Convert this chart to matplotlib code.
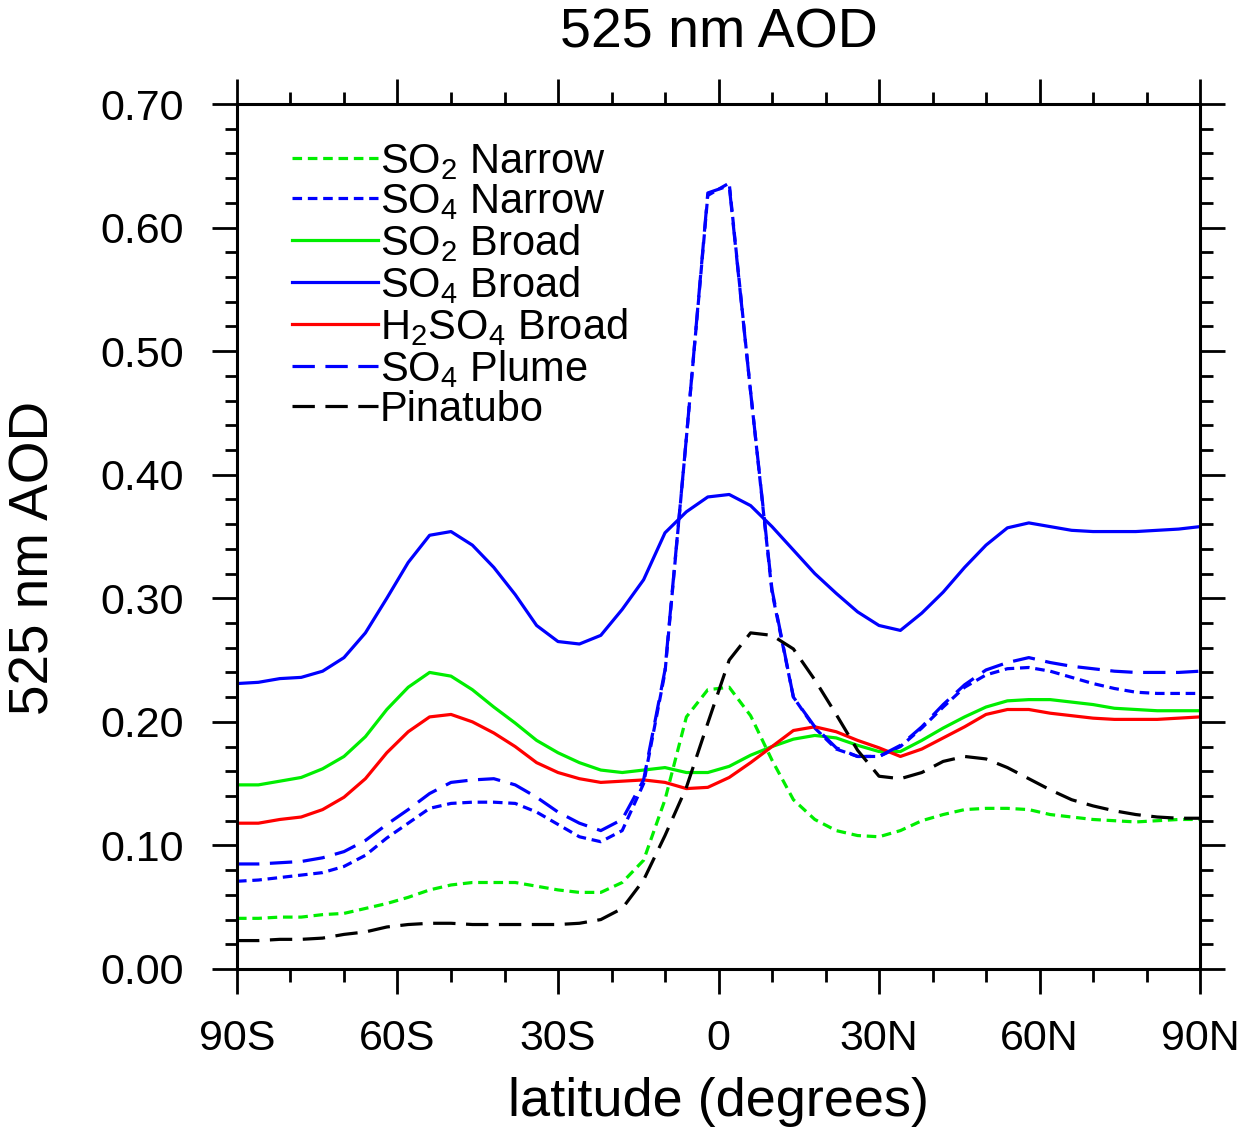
import numpy as np
import matplotlib
matplotlib.use("Agg")
import matplotlib.pyplot as plt

plt.rcParams['font.family'] = ['Liberation Sans', 'DejaVu Sans']
plt.rcParams['mathtext.fontset'] = 'custom'
plt.rcParams['mathtext.rm'] = 'Liberation Sans'
plt.rcParams['mathtext.default'] = 'regular'

# latitude grid (degrees), 4 degree spacing
lat = np.arange(-90, 91, 4)

so2_narrow = [0.041, 0.041, 0.042, 0.042, 0.044, 0.045, 0.049, 0.053, 0.058, 0.064,
              0.068, 0.070, 0.070, 0.070, 0.067, 0.064, 0.062, 0.062, 0.070, 0.088,
              0.137, 0.204, 0.226, 0.228, 0.205, 0.169, 0.137, 0.121, 0.112, 0.108,
              0.107, 0.112, 0.120, 0.125, 0.129, 0.130, 0.130, 0.129, 0.125, 0.123,
              0.121, 0.120, 0.119, 0.120, 0.121, 0.121]
so4_narrow = [0.071, 0.072, 0.074, 0.076, 0.078, 0.083, 0.092, 0.106, 0.118, 0.130,
              0.134, 0.135, 0.135, 0.134, 0.127, 0.117, 0.107, 0.103, 0.112, 0.150,
              0.240, 0.430, 0.626, 0.636, 0.467, 0.305, 0.220, 0.195, 0.178, 0.172,
              0.172, 0.180, 0.195, 0.212, 0.228, 0.238, 0.243, 0.244, 0.241, 0.236,
              0.231, 0.227, 0.224, 0.223, 0.223, 0.223]
so2_broad = [0.149, 0.149, 0.152, 0.155, 0.162, 0.172, 0.188, 0.210, 0.228, 0.240,
             0.237, 0.226, 0.212, 0.199, 0.185, 0.175, 0.167, 0.161, 0.159, 0.161,
             0.163, 0.159, 0.159, 0.164, 0.173, 0.180, 0.186, 0.189, 0.187, 0.181,
             0.176, 0.176, 0.185, 0.195, 0.204, 0.212, 0.217, 0.218, 0.218, 0.216,
             0.214, 0.211, 0.210, 0.209, 0.209, 0.209]
so4_broad = [0.231, 0.232, 0.235, 0.236, 0.241, 0.252, 0.272, 0.300, 0.329, 0.351,
             0.354, 0.343, 0.325, 0.303, 0.278, 0.265, 0.263, 0.270, 0.291, 0.315,
             0.353, 0.370, 0.382, 0.384, 0.375, 0.358, 0.339, 0.320, 0.304, 0.289,
             0.278, 0.274, 0.288, 0.305, 0.325, 0.343, 0.357, 0.361, 0.358, 0.355,
             0.354, 0.354, 0.354, 0.355, 0.356, 0.358]
h2so4_broad = [0.118, 0.118, 0.121, 0.123, 0.129, 0.139, 0.154, 0.175, 0.192, 0.204,
               0.206, 0.200, 0.191, 0.180, 0.167, 0.159, 0.154, 0.151, 0.152, 0.153,
               0.151, 0.146, 0.147, 0.155, 0.167, 0.180, 0.193, 0.196, 0.192, 0.185,
               0.179, 0.172, 0.178, 0.187, 0.196, 0.206, 0.210, 0.210, 0.207, 0.205,
               0.203, 0.202, 0.202, 0.202, 0.203, 0.204]
so4_plume = [0.085, 0.085, 0.086, 0.087, 0.090, 0.095, 0.104, 0.117, 0.129, 0.142,
             0.151, 0.153, 0.154, 0.149, 0.139, 0.127, 0.118, 0.112, 0.121, 0.153,
             0.242, 0.430, 0.628, 0.634, 0.467, 0.307, 0.220, 0.196, 0.179, 0.172,
             0.172, 0.181, 0.196, 0.214, 0.230, 0.242, 0.248, 0.252, 0.248, 0.245,
             0.243, 0.241, 0.240, 0.240, 0.240, 0.241]
pinatubo = [0.023, 0.023, 0.024, 0.024, 0.025, 0.028, 0.030, 0.034, 0.036, 0.037,
            0.037, 0.036, 0.036, 0.036, 0.036, 0.036, 0.037, 0.040, 0.049, 0.072,
            0.108, 0.147, 0.199, 0.250, 0.272, 0.270, 0.259, 0.234, 0.206, 0.177,
            0.156, 0.154, 0.159, 0.168, 0.172, 0.170, 0.163, 0.154, 0.145, 0.137,
            0.132, 0.128, 0.125, 0.123, 0.122, 0.122]

xticks = [-90, -60, -30, 0, 30, 60, 90]
xticklabels = ['90S', '60S', '30S', '0', '30N', '60N', '90N']

fig = plt.figure(figsize=(12.47, 11.28), dpi=100)
ax = fig.add_axes([237 / 1247, 1 - 969 / 1128, 963 / 1247, 865 / 1128])

lw = 2.3
dot = (0, (3, 1.8))
dash = (0, (7.0, 3.3))
ax.plot(lat, so2_narrow, color='#00ee00', lw=lw, ls=dot, label='SO$_2$ Narrow')
ax.plot(lat, so4_narrow, color='#0000ff', lw=lw, ls=dot, label='SO$_4$ Narrow')
ax.plot(lat, so2_broad, color='#00ee00', lw=lw, label='SO$_2$ Broad')
ax.plot(lat, so4_broad, color='#0000ff', lw=lw, label='SO$_4$ Broad')
ax.plot(lat, h2so4_broad, color='#ff0000', lw=lw, label='H$_2$SO$_4$ Broad')
ax.plot(lat, so4_plume, color='#0000ff', lw=lw, ls=dash, label='SO$_4$ Plume')
ax.plot(lat, pinatubo, color='black', lw=lw, ls=dash, label='Pinatubo')

ax.set_xlim(-90, 90)
ax.set_ylim(0, 0.7)
ax.set_xticks(xticks)
ax.set_xticklabels(xticklabels)
ax.set_xticks(np.arange(-90, 91, 10), minor=True)
ax.set_yticks(np.arange(0, 0.71, 0.1))
ax.set_yticklabels(['%.2f' % v for v in np.arange(0, 0.71, 0.1)])
ax.set_yticks(np.arange(0, 0.71, 0.02), minor=True)

for s in ax.spines.values():
    s.set_linewidth(2.2)
ax.tick_params(which='both', direction='out', top=True, right=True, width=2.0)
ax.tick_params(which='major', length=18, labelsize=31)
ax.tick_params(which='minor', length=9)
ax.tick_params(axis='y', which='major', pad=20)
ax.tick_params(axis='x', which='major', pad=18)

leg = ax.legend(loc='upper left', bbox_to_anchor=(0.057, 0.956), frameon=False,
                fontsize=30, handlelength=2.06, handletextpad=0.05,
                labelspacing=0.0, borderpad=0, borderaxespad=0)

fig.text(718.5 / 1247, 1 - 47 / 1128, '525 nm AOD', fontsize=40,
         ha='center', va='baseline')
fig.text(35 / 1247, 1 - 558 / 1128, '525 nm AOD', fontsize=39.5,
         rotation=90, ha='center', va='center')
fig.text(718.5 / 1247, 1 - 1116 / 1128, 'latitude (degrees)', fontsize=39,
         ha='center', va='baseline')

fig.savefig('out.png', dpi=100)
